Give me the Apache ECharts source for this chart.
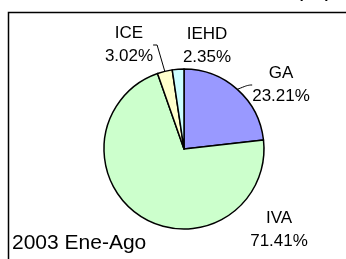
<!DOCTYPE html>
<html>
<head>
<meta charset="utf-8">
<script src="https://cdn.jsdelivr.net/npm/echarts@6/dist/echarts.min.js"></script>
<style>
  html, body { margin: 0; padding: 0; background: #fff; }
  #chart { width: 346px; height: 259px; }
</style>
</head>
<body>
<div id="chart"></div>
<script>
// datos del grafico
const categories = ['GA', 'IVA', 'ICE', 'IEHD'];
const shares = [23.21, 71.41, 3.02, 2.35];
const sliceColors = ['#9999ff', '#ccffcc', '#ffffcc', '#ccffff'];
const periodLabel = '2003 Ene-Ago';
const unitLabel = '(%)';

// posicion de cada etiqueta (centro del bloque)
const labelPos = {
    GA: [281, 85],
    IVA: [279, 230],
    ICE: [129, 45],
    IEHD: [207, 46]
};

const chart = echarts.init(document.getElementById('chart'));
const font = 'Liberation Sans, Arial, sans-serif';

const option = {
    animation: false,
    graphic: [
        {
            type: 'rect',
            shape: { x: 8.5, y: 12.5, width: 400, height: 300 },
            style: { fill: 'none', stroke: '#000', lineWidth: 1.5 }
        },
        {
            type: 'text',
            x: 12,
            y: 243,
            style: {
                text: periodLabel, fontSize: 21, fontFamily: font, fill: '#000',
                verticalAlign: 'middle'
            }
        },
        {
            type: 'text',
            x: 314,
            y: -11,
            style: {
                text: unitLabel, fontSize: 24, fontFamily: font, fill: '#000',
                align: 'center', verticalAlign: 'middle'
            }
        }
    ],
    series: [
        {
            type: 'pie',
            center: [184, 149],
            radius: 80,
            startAngle: 90,
            clockwise: true,
            avoidLabelOverlap: false,
            data: categories.map((name, i) => ({
                name: name,
                value: shares[i],
                itemStyle: { color: sliceColors[i] },
                labelLine: {
                    show: name === 'ICE' || name === 'GA',
                    smooth: name === 'GA' ? 0.5 : false
                }
            })),
            itemStyle: { borderColor: '#000', borderWidth: 1.5 },
            label: {
                show: true,
                position: 'outside',
                formatter: p => p.name + '\n' + p.value.toFixed(2) + '%',
                fontSize: 17,
                lineHeight: 23,
                fontFamily: font,
                color: '#000',
                align: 'center'
            },
            labelLine: {
                show: true,
                length: 6,
                length2: 4,
                lineStyle: { color: '#000', width: 1 }
            },
            labelLayout: function (params) {
                const pos = labelPos[categories[params.dataIndex]];
                return {
                    x: pos[0],
                    y: pos[1],
                    align: 'center',
                    verticalAlign: 'middle'
                };
            },
            emphasis: { disabled: true }
        }
    ]
};

chart.setOption(option);
window.addEventListener('resize', () => chart.resize());
</script>
</body>
</html>
